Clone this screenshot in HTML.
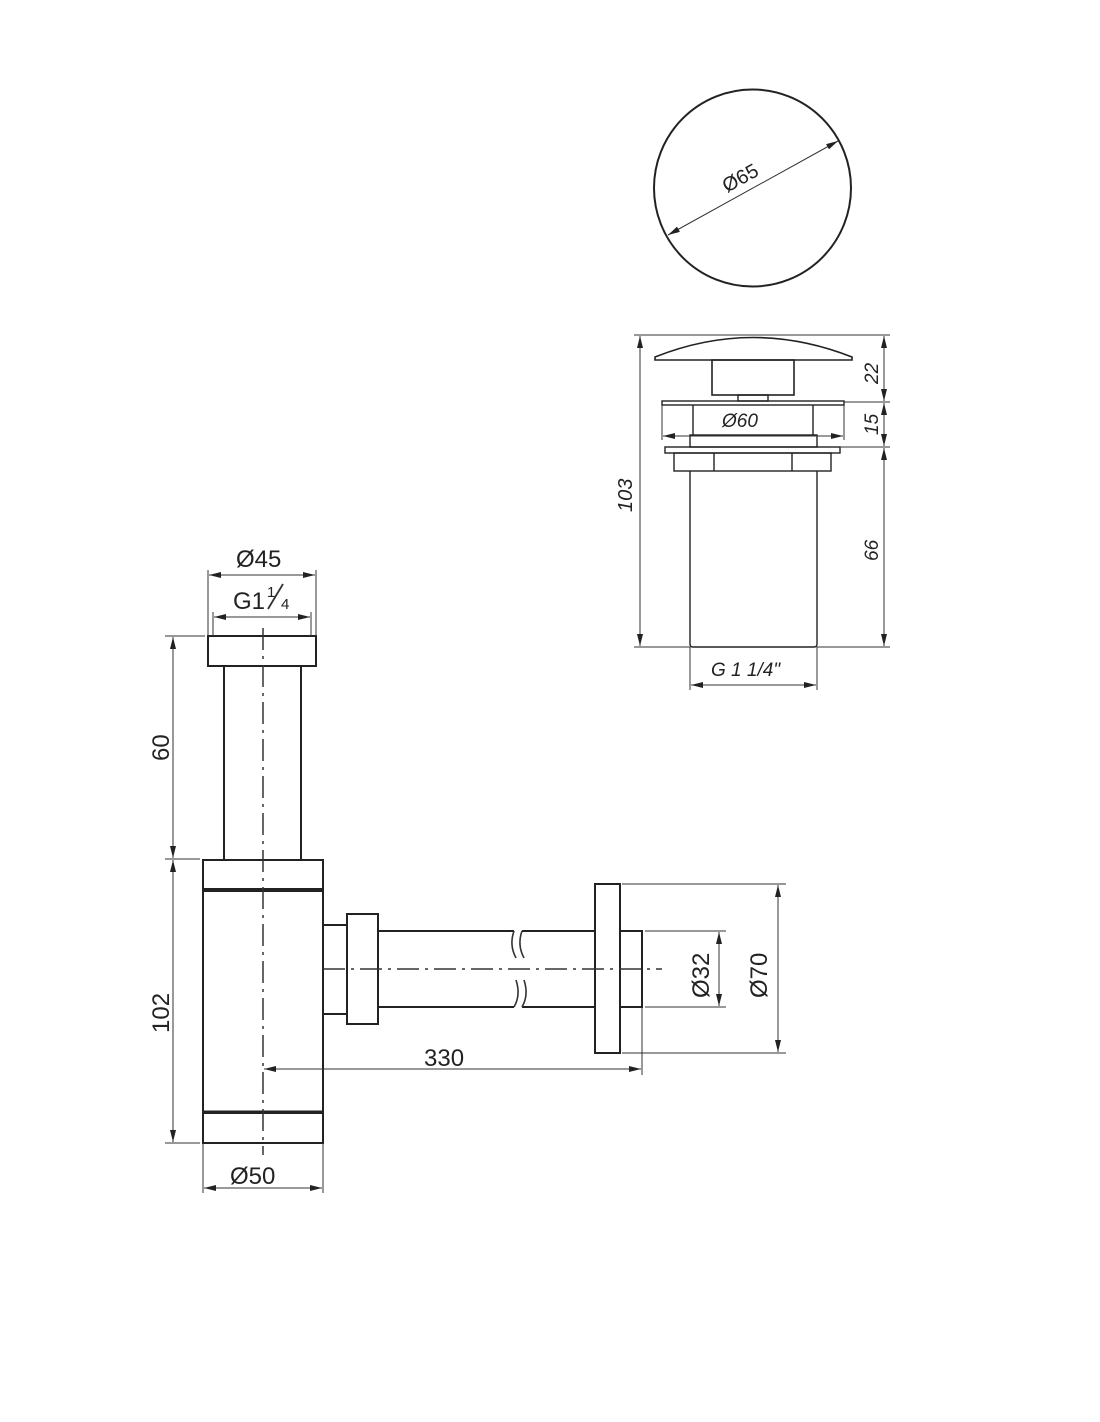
<!DOCTYPE html>
<html><head><meta charset="utf-8"><style>
html,body{margin:0;padding:0;background:#fff;}
svg{display:block;}
.l{stroke:#222;stroke-width:2;fill:none;}
.t{stroke:#333;stroke-width:1;fill:none;}
.c{stroke:#333;stroke-width:1.5;fill:none;stroke-dasharray:22 6 3 6;}
.s{font-family:"Liberation Sans",sans-serif;font-size:24px;fill:#222;}
.v{font-family:"Liberation Sans",sans-serif;font-size:19px;font-style:italic;fill:#222;}
</style></head><body>
<svg width="1100" height="1422" viewBox="0 0 1100 1422" xmlns="http://www.w3.org/2000/svg">
<defs>
<marker id="a" viewBox="0 0 12 6" refX="12" refY="3" markerWidth="12" markerHeight="6" markerUnits="userSpaceOnUse" orient="auto-start-reverse"><path d="M0,0 L12,3 L0,6 Z" fill="#222"/></marker>
</defs>

<circle cx="752.5" cy="188" r="98.5" class="l"/>
<line x1="668" y1="235" x2="838" y2="141" class="t" marker-start="url(#a)" marker-end="url(#a)"/>
<text class="v" x="0" y="0" transform="translate(727,193) rotate(-29)" style="font-size:20px;font-style:normal">Ø65</text>

<path d="M655,357 Q753,318 852,357 L852,360 L655,360 Z" class="l" style="stroke-width:1.6"/>
<rect x="712" y="360" width="82" height="35" class="l" style="stroke-width:1.6"/>
<rect x="738" y="395" width="30" height="6" class="l" style="stroke-width:1.4"/>
<rect x="662" y="401" width="182" height="4" class="l" style="stroke-width:1.4"/>
<line x1="693" y1="405" x2="693" y2="435" class="l" style="stroke-width:1.4"/>
<line x1="813" y1="405" x2="813" y2="435" class="l" style="stroke-width:1.4"/>
<rect x="690" y="435" width="127" height="12" class="l" style="stroke-width:1.4"/>
<rect x="665" y="447" width="175" height="6" class="l" style="stroke-width:1.4"/>
<rect x="674" y="453" width="157" height="18" class="l" style="stroke-width:1.4"/>
<line x1="714" y1="453" x2="714" y2="471" class="l" style="stroke-width:1.4"/>
<line x1="792" y1="453" x2="792" y2="471" class="l" style="stroke-width:1.4"/>
<path d="M690,471 L690,644 Q690,647 693,647 L814,647 Q817,647 817,644 L817,471" class="l" style="stroke-width:1.4"/>
<line x1="662" y1="405" x2="662" y2="440" class="t"/>
<line x1="844" y1="405" x2="844" y2="440" class="t"/>
<line x1="663" y1="436" x2="843" y2="436" class="t" marker-start="url(#a)" marker-end="url(#a)"/>
<text class="v" x="722" y="427">Ø60</text>
<line x1="634" y1="335" x2="890" y2="335" class="t"/>
<line x1="634" y1="647" x2="690" y2="647" class="t"/>
<line x1="640" y1="336" x2="640" y2="646" class="t" marker-start="url(#a)" marker-end="url(#a)"/>
<text class="v" transform="translate(632,512) rotate(-90)" style="font-size:20px">103</text>
<line x1="844" y1="402" x2="890" y2="402" class="t"/>
<line x1="840" y1="447" x2="890" y2="447" class="t"/>
<line x1="817" y1="647" x2="890" y2="647" class="t"/>
<line x1="884" y1="336" x2="884" y2="401" class="t" marker-start="url(#a)" marker-end="url(#a)"/>
<line x1="884" y1="403" x2="884" y2="446" class="t" marker-start="url(#a)" marker-end="url(#a)"/>
<line x1="884" y1="448" x2="884" y2="646" class="t" marker-start="url(#a)" marker-end="url(#a)"/>
<text class="v" transform="translate(878,384) rotate(-90)">22</text>
<text class="v" transform="translate(878,435) rotate(-90)">15</text>
<text class="v" transform="translate(878,561) rotate(-90)">66</text>
<line x1="690" y1="647" x2="690" y2="690" class="t"/>
<line x1="817" y1="647" x2="817" y2="690" class="t"/>
<line x1="691" y1="685" x2="816" y2="685" class="t" marker-start="url(#a)" marker-end="url(#a)"/>
<text class="v" x="711" y="676">G 1 1/4"</text>

<rect x="208" y="636" width="108" height="30" class="l"/>
<line x1="224" y1="666" x2="224" y2="860" class="l"/>
<line x1="301" y1="666" x2="301" y2="860" class="l"/>
<rect x="203" y="860" width="120" height="29" class="l"/>
<rect x="203" y="891" width="120" height="221" class="l"/>
<rect x="203" y="1113" width="120" height="30" class="l"/>
<line x1="203" y1="1112" x2="323" y2="1112" class="l" style="stroke-width:3"/>
<line x1="263" y1="628" x2="263" y2="1155" class="c"/>
<rect x="323" y="925" width="24" height="89" class="l"/>
<rect x="347" y="914" width="31" height="110" class="l"/>
<path d="M378,931 L514,931 M522,931 L595,931 M378,1007 L514,1007 M522,1007 L595,1007" class="l"/>
<path d="M514,931 Q509,945 516,958 M522,931 Q517,945 524,958 M516,980 Q521,995 514,1007 M524,980 Q529,995 522,1007" class="t" style="stroke-width:1.6"/>
<rect x="595" y="884" width="25" height="169" class="l"/>
<rect x="620" y="931" width="22" height="76" class="l"/>
<line x1="323" y1="969" x2="662" y2="969" class="c"/>
<line x1="645" y1="931" x2="726" y2="931" class="t"/>
<line x1="645" y1="1007" x2="726" y2="1007" class="t"/>
<line x1="719" y1="932" x2="719" y2="1006" class="t" marker-start="url(#a)" marker-end="url(#a)"/>
<text class="s" transform="translate(709,998) rotate(-90)">Ø32</text>
<line x1="622" y1="884" x2="786" y2="884" class="t"/>
<line x1="622" y1="1053" x2="786" y2="1053" class="t"/>
<line x1="778" y1="885" x2="778" y2="1052" class="t" marker-start="url(#a)" marker-end="url(#a)"/>
<text class="s" transform="translate(767,998) rotate(-90)">Ø70</text>
<line x1="642" y1="1008" x2="642" y2="1075" class="t"/>
<line x1="264" y1="1069" x2="641" y2="1069" class="t" marker-start="url(#a)" marker-end="url(#a)"/>
<text class="s" x="424" y="1066">330</text>
<line x1="203" y1="1143" x2="203" y2="1193" class="t"/>
<line x1="323" y1="1143" x2="323" y2="1193" class="t"/>
<line x1="204" y1="1188" x2="322" y2="1188" class="t" marker-start="url(#a)" marker-end="url(#a)"/>
<text class="s" x="230" y="1184">Ø50</text>
<line x1="165" y1="636" x2="205" y2="636" class="t"/>
<line x1="165" y1="859" x2="200" y2="859" class="t"/>
<line x1="165" y1="1143" x2="200" y2="1143" class="t"/>
<line x1="173" y1="637" x2="173" y2="858" class="t" marker-start="url(#a)" marker-end="url(#a)"/>
<line x1="173" y1="860" x2="173" y2="1142" class="t" marker-start="url(#a)" marker-end="url(#a)"/>
<text class="s" transform="translate(169,761) rotate(-90)">60</text>
<text class="s" transform="translate(169,1033) rotate(-90)">102</text>
<line x1="208" y1="570" x2="208" y2="636" class="t"/>
<line x1="316" y1="570" x2="316" y2="636" class="t"/>
<line x1="209" y1="575" x2="315" y2="575" class="t" marker-start="url(#a)" marker-end="url(#a)"/>
<text class="s" x="236" y="567">Ø45</text>
<line x1="213" y1="612" x2="213" y2="636" class="t"/>
<line x1="311" y1="612" x2="311" y2="636" class="t"/>
<line x1="214" y1="617" x2="310" y2="617" class="t" marker-start="url(#a)" marker-end="url(#a)"/>
<text class="s" x="233" y="609">G1</text>
<text class="s" x="267" y="597" style="font-size:15px">1</text>
<line x1="268" y1="609" x2="283" y2="584" class="t" style="stroke-width:1.8"/>
<text class="s" x="281" y="609" style="font-size:15px">4</text>
</svg>
</body></html>
